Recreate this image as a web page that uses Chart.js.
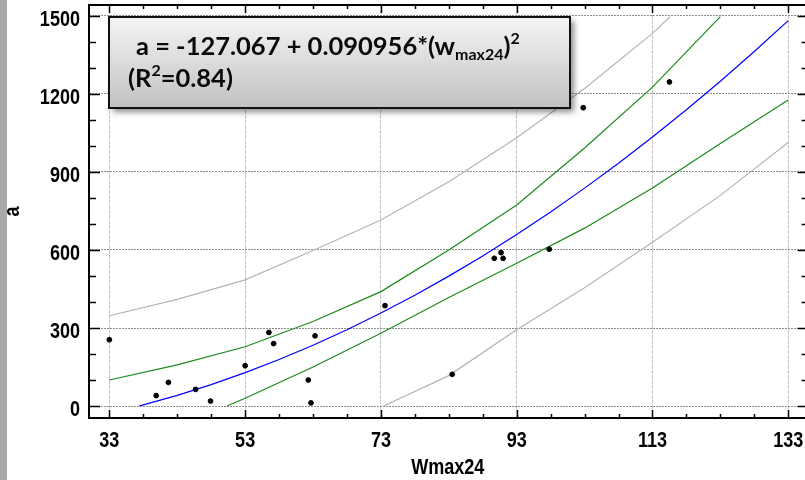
<!DOCTYPE html>
<html>
<head>
<meta charset="utf-8">
<script src="https://cdn.jsdelivr.net/npm/chart.js@4.4.1/dist/chart.umd.min.js"></script>
<style>
  html, body { margin: 0; padding: 0; overflow: hidden; background: #fff; }
  canvas { display: block; }
</style>
</head>
<body>
<canvas id="fit" width="812" height="480"></canvas>
<script>
// axis ticks
const xTicks = [33, 53, 73, 93, 113, 133];
const yTicks = [0, 300, 600, 900, 1200, 1500];
const xMinor = [38, 43, 48, 58, 63, 68, 78, 83, 88, 98, 103, 108, 118, 123, 128];
const yMinor = [100, 200, 400, 500, 700, 800, 1000, 1100, 1300, 1400];

// observations
const wmax = [33, 39.9, 41.7, 45.7, 47.9, 53.0, 56.5, 57.2, 62.3, 62.7, 63.3, 73.6, 83.5, 89.7, 90.7, 91.0, 97.8, 102.8, 115.5];
const aObs = [255, 40, 91, 64, 19, 155, 283, 240, 100, 12, 270, 386, 122, 568, 590, 568, 603, 1147, 1246];

// fitted curve a = -127.067 + 0.090956*w^2
const fitX = [37.4, 38, 43, 48, 53, 58, 63, 68, 73, 78, 83, 88, 93, 98, 103, 108, 113, 118, 123, 128, 133];
const fitY = [0.2, 4.3, 41.1, 82.5, 128.4, 178.9, 233.9, 293.5, 357.6, 426.3, 499.5, 577.3, 659.6, 746.5, 837.9, 933.8, 1034.3, 1139.4, 1249.0, 1363.1, 1481.8];

// confidence limits for the mean
const confUpX = [33, 43, 53, 63, 73, 83, 93, 103, 113, 123];
const confUpY = [100, 158, 228, 325, 440, 600, 773, 992, 1226, 1497];
const confLoX = [50.3, 53, 63, 73, 83, 93, 103, 113, 123, 133];
const confLoY = [0, 30, 150, 280, 417, 549, 684, 838, 1009, 1177];

// prediction limits
const predUpX = [33, 43, 53, 63, 73, 83, 93, 103, 113, 115.6];
const predUpY = [347, 410, 485, 598, 715, 862, 1032, 1221, 1433, 1497];
const predLoX = [73.4, 83, 93, 103, 113, 123, 133];
const predLoY = [0, 117, 293, 455, 630, 810, 1013];

const xTitle = 'Wmax24';
const yTitle = 'a';

const pts = (xs, ys) => xs.map((x, i) => ({ x: x, y: ys[i] }));

const lineSet = (data, color) => ({
  data: data,
  showLine: true,
  borderColor: color,
  borderWidth: 1.2,
  pointRadius: 0,
  fill: false,
  tension: 0
});

// narrow bold text: regular face squeezed horizontally
const NARROW = 0.82;
const labelFont = "bold 22px 'Liberation Sans', Arial, sans-serif";
function narrowText(ctx, text, x, y, align) {
  ctx.save();
  ctx.translate(x, y);
  ctx.scale(NARROW, 1);
  ctx.textAlign = align;
  ctx.fillText(text, 0, 0);
  ctx.restore();
}

// white page with the grey strip on the left
const background = {
  id: 'background',
  beforeDraw(chart) {
    const ctx = chart.ctx;
    ctx.save();
    ctx.fillStyle = '#ffffff';
    ctx.fillRect(0, 0, chart.width, chart.height);
    ctx.fillStyle = '#a9a9a9';
    ctx.fillRect(0, 0, 7, chart.height);
    ctx.restore();
  }
};

// black frame with inward ticks on all four sides, tick labels and titles
const frame = {
  id: 'frame',
  afterDatasetsDraw(chart) {
    const { ctx, chartArea: a, scales: { x, y } } = chart;
    ctx.save();
    ctx.strokeStyle = '#000';
    ctx.lineWidth = 2;
    ctx.strokeRect(a.left, a.top, a.right - a.left, a.bottom - a.top);
    ctx.lineWidth = 1.5;
    ctx.beginPath();
    const hTick = (v, len) => {
      const px = Math.round(x.getPixelForValue(v)) + 0.5;
      ctx.moveTo(px, a.bottom); ctx.lineTo(px, a.bottom - len);
      ctx.moveTo(px, a.top); ctx.lineTo(px, a.top + len);
    };
    const vTick = (v, len) => {
      const py = Math.round(y.getPixelForValue(v)) + 0.5;
      ctx.moveTo(a.left, py); ctx.lineTo(a.left + len, py);
      ctx.moveTo(a.right, py); ctx.lineTo(a.right - len, py);
    };
    xTicks.forEach(v => hTick(v, 8));
    xMinor.forEach(v => hTick(v, 4));
    yTicks.forEach(v => vTick(v, 11));
    yMinor.forEach(v => vTick(v, 7));
    ctx.stroke();

    ctx.fillStyle = '#000';
    ctx.font = labelFont;
    ctx.textBaseline = 'alphabetic';
    xTicks.forEach(v => narrowText(ctx, String(v), x.getPixelForValue(v), a.bottom + 29, 'center'));
    yTicks.forEach(v => narrowText(ctx, String(v), a.left - 9, y.getPixelForValue(v) + 10, 'right'));

    narrowText(ctx, xTitle, (a.left + a.right) / 2 - 1, 474, 'center');
    ctx.save();
    ctx.translate(19, (a.top + a.bottom) / 2);
    ctx.rotate(-Math.PI / 2);
    narrowText(ctx, yTitle, 0, 0, 'center');
    ctx.restore();
    ctx.restore();
  }
};

// regression equation panel
const equation = {
  id: 'equation',
  afterDraw(chart) {
    const ctx = chart.ctx;
    const bx = 109, by = 17, bw = 461, bh = 91;
    ctx.save();
    ctx.shadowColor = 'rgba(0,0,0,0.45)';
    ctx.shadowBlur = 6;
    ctx.shadowOffsetX = 4;
    ctx.shadowOffsetY = 4;
    const g = ctx.createLinearGradient(0, by, 0, by + bh);
    g.addColorStop(0, '#f4f4f4');
    g.addColorStop(1, '#c2c2c2');
    ctx.fillStyle = g;
    ctx.fillRect(bx, by, bw, bh);
    ctx.restore();

    ctx.save();
    ctx.strokeStyle = '#111';
    ctx.lineWidth = 2;
    ctx.strokeRect(bx, by, bw, bh);

    const fam = "Lato, 'Open Sans', sans-serif";
    const big = 'bold 25.5px ' + fam;
    const small = 'bold 16px ' + fam;
    ctx.fillStyle = '#0a0a0a';
    ctx.textBaseline = 'alphabetic';
    ctx.textAlign = 'left';
    const run = (parts, x0, base) => {
      let cx = x0;
      parts.forEach(([t, f, dy]) => {
        ctx.font = f;
        ctx.fillText(t, cx, base + dy);
        cx += ctx.measureText(t).width;
      });
    };
    run([
      ['a = -127.067 + 0.090956*(w', big, 0],
      ['max24', small, 5],
      [')', big, 0],
      ['2', small, -11]
    ], 136, 55);
    run([
      ['(R', big, 0],
      ['2', small, -11],
      ['=0.84)', big, 0]
    ], 128, 87);
    ctx.restore();
  }
};

new Chart(document.getElementById('fit'), {
  type: 'scatter',
  data: {
    datasets: [
      {
        data: pts(wmax, aObs),
        backgroundColor: '#000',
        borderColor: '#000',
        pointRadius: 2.4,
        pointHoverRadius: 2.4,
        showLine: false
      },
      lineSet(pts(fitX, fitY), '#0000ff'),
      lineSet(pts(confUpX, confUpY), '#1b8a1b'),
      lineSet(pts(confLoX, confLoY), '#1b8a1b'),
      lineSet(pts(predUpX, predUpY), '#b4b4b4'),
      lineSet(pts(predLoX, predLoY), '#b4b4b4')
    ]
  },
  options: {
    responsive: false,
    animation: false,
    events: [],
    layout: { padding: { top: 5, right: 3, left: 0, bottom: 0 } },
    plugins: {
      legend: { display: false },
      tooltip: { enabled: false }
    },
    scales: {
      x: {
        type: 'linear',
        min: 30,
        max: 136,
        afterBuildTicks: s => { s.ticks = xTicks.map(v => ({ value: v })); },
        afterFit: s => { s.height = 62; },
        ticks: { display: false },
        grid: { color: '#c4c4c4', lineWidth: 1, drawTicks: false },
        border: { display: false, dash: [4, 1] }
      },
      y: {
        type: 'linear',
        min: -46,
        max: 1542,
        afterBuildTicks: s => { s.ticks = yTicks.map(v => ({ value: v })); },
        afterFit: s => { s.width = 89; },
        ticks: { display: false },
        grid: { color: '#8c8c8c', lineWidth: 1, drawTicks: false },
        border: { display: false, dash: [2, 1] }
      }
    }
  },
  plugins: [background, frame, equation]
});
</script>
</body>
</html>
